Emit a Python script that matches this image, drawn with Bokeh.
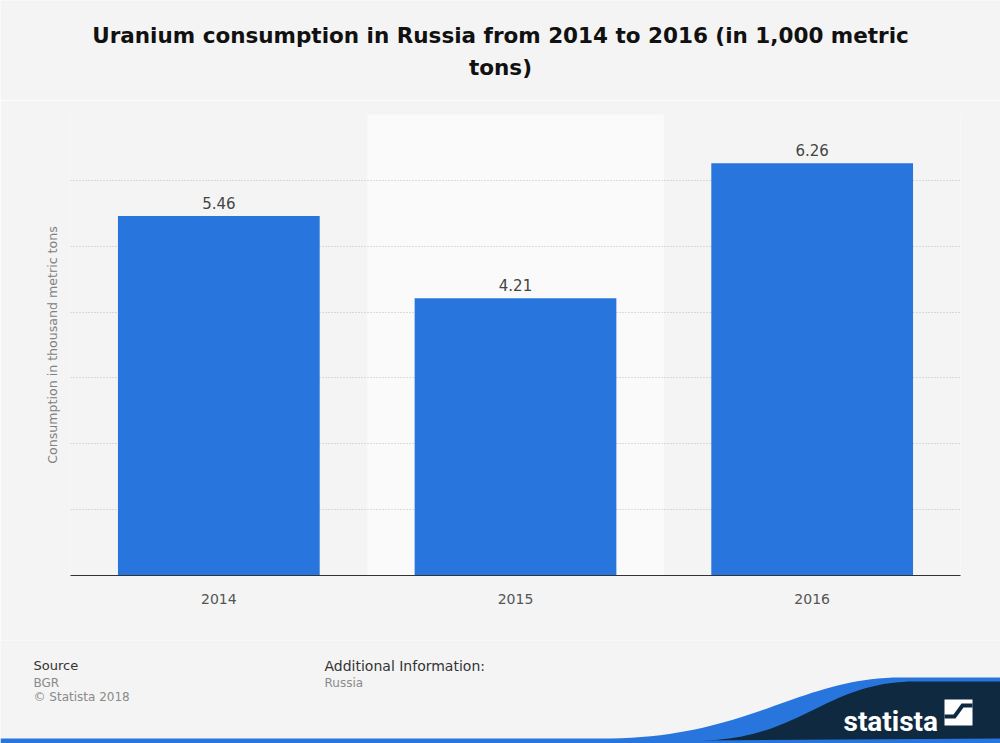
import numpy as np
from bokeh.plotting import figure
from bokeh.layouts import column
from bokeh.models import (ColumnDataSource, Label, BoxAnnotation, FactorRange,
                          Range1d, FixedTicker)
from bokeh.embed import file_html
from bokeh.resources import INLINE
from bokeh.core.properties import value

# ---- data ----
years = ["2014", "2015", "2016"]
consumption = [5.46, 4.21, 6.26]
value_labels = ["5.46", "4.21", "6.26"]
grid_ticks = [1, 2, 3, 4, 5, 6, 7]
y_max = 7

title_lines = ["Uranium consumption in Russia from 2014 to 2016 (in 1,000 metric", "tons)"]
y_title = "Consumption in thousand metric tons"
source_lines = ["BGR", "\u00a9 Statista 2018"]
info_lines = ["Russia"]

# ---- layout ----
W = 1000
BG = "#f4f4f4"
BLUE = "#2876dd"
NAVY = "#0f2a40"
FONT = "DejaVu Sans"


def deco_fig(height, y0, y1):
    fg = figure(width=W, height=height, x_range=Range1d(0, W), y_range=Range1d(y1, y0),
                x_axis_location=None, y_axis_location=None, min_border=0,
                output_backend="svg", toolbar_location=None)
    fg.background_fill_color = BG
    fg.border_fill_color = BG
    fg.outline_line_color = None
    fg.grid.visible = False
    return fg


# ---- title ----
TH = 100
t = deco_fig(TH, 0, TH)
for line, yy in zip(title_lines, [35, 67]):
    t.add_layout(Label(x=500, y=yy, text=line, text_align="center", text_baseline="middle",
                       text_font=FONT, text_font_style="bold", text_font_size="21.5px",
                       text_color="#111111"))

# ---- main chart ----
MH = 540
p = figure(x_range=FactorRange(*years), y_range=Range1d(0, y_max),
           width=W, height=MH, output_backend="svg", toolbar_location=None,
           min_border_left=70, min_border_right=40, min_border_top=14, min_border_bottom=65)
p.background_fill_color = BG
p.border_fill_color = BG
p.outline_line_color = None

p.xgrid.visible = False
p.ygrid.ticker = FixedTicker(ticks=grid_ticks)
p.ygrid.grid_line_color = "#bdbdbd"
p.ygrid.grid_line_dash = "1 2"
p.ygrid.grid_line_width = 1

p.yaxis.ticker = FixedTicker(ticks=[])
p.yaxis.axis_line_color = None
p.yaxis.major_tick_line_color = None
p.yaxis.minor_tick_line_color = None
p.yaxis.axis_label = y_title
p.yaxis.axis_label_text_font = FONT
p.yaxis.axis_label_text_font_style = "normal"
p.yaxis.axis_label_text_font_size = "12.6px"
p.yaxis.axis_label_text_color = "#808080"
p.yaxis.axis_label_standoff = 11

p.xaxis.axis_line_color = "#333333"
p.xaxis.axis_line_width = 1.2
p.xaxis.major_tick_line_color = None
p.xaxis.minor_tick_line_color = None
p.xaxis.major_label_text_font = FONT
p.xaxis.major_label_text_font_size = "14px"
p.xaxis.major_label_text_color = "#555555"
p.xaxis.major_label_standoff = 12

band = BoxAnnotation(left=1, right=2, fill_color="#fafafa", fill_alpha=1.0,
                     line_color=None, level="image")
p.add_layout(band)

src = ColumnDataSource(dict(years=years, consumption=consumption, labels=value_labels))
p.vbar(x="years", top="consumption", width=0.68, source=src,
       fill_color=BLUE, line_color=None)
p.text(x="years", y="consumption", text="labels", source=src,
       text_align="center", text_baseline="bottom", y_offset=-7,
       text_font=value(FONT), text_font_size="15px", text_color="#444444")

# ---- footer ----
F0, F1 = 640, 743
f = deco_fig(F1 - F0, F0, F1)

f.add_layout(Label(x=33, y=665, text="Source", text_align="left", text_baseline="middle",
                   text_font=FONT, text_font_size="13px", text_color="#333333"))
for txt, yy in zip(source_lines, [682, 696]):
    f.add_layout(Label(x=33, y=yy, text=txt, text_align="left", text_baseline="middle",
                       text_font=FONT, text_font_size="12px", text_color="#8a8a8a"))
f.add_layout(Label(x=324, y=665, text="Additional Information:", text_align="left",
                   text_baseline="middle", text_font=FONT, text_font_size="14px",
                   text_color="#333333"))
for txt, yy in zip(info_lines, [682]):
    f.add_layout(Label(x=324, y=yy, text=txt, text_align="left", text_baseline="middle",
                       text_font=FONT, text_font_size="12px", text_color="#8a8a8a"))


def bezier(p0, p1, p2, p3, n=40):
    tt = np.linspace(0, 1, n)
    pts = [np.array(q, dtype=float) for q in (p0, p1, p2, p3)]
    c = ((1 - tt) ** 3)[:, None] * pts[0] + (3 * (1 - tt) ** 2 * tt)[:, None] * pts[1] \
        + (3 * (1 - tt) * tt ** 2)[:, None] * pts[2] + (tt ** 3)[:, None] * pts[3]
    return list(c[:, 0]), list(c[:, 1])


# blue wave + bottom line
bx, by = bezier((610, 738), (750, 736), (800, 677), (900, 677))
f.patch([0] + bx + [1000, 1000, 0], [738] + by + [677, 743, 743],
        fill_color=BLUE, line_color=None)
# navy block
nx, ny = bezier((700, 740), (800, 739), (825, 681), (915, 681))
f.patch(nx + [1000, 1000], ny + [681, 738], fill_color=NAVY, line_color=None)

f.add_layout(Label(x=843, y=721, text="statista", text_align="left", text_baseline="alphabetic",
                   text_font="Roboto", text_font_style="bold", text_font_size="28px",
                   text_color="white"))
# icon
f.patch([944, 972, 972, 944], [699, 699, 725, 725], fill_color="white", line_color=None)
f.patch([944, 953, 961, 972, 972, 963, 955, 944],
        [714, 714, 703, 703, 707, 707, 718, 718], fill_color=NAVY, line_color=None)

layout = column(column(t), p, column(f), spacing=0)

html = file_html(layout, INLINE)
html = html.replace("<body>", '<body style="background:%s">' % BG, 1)
open("out.html", "w").write(html)
